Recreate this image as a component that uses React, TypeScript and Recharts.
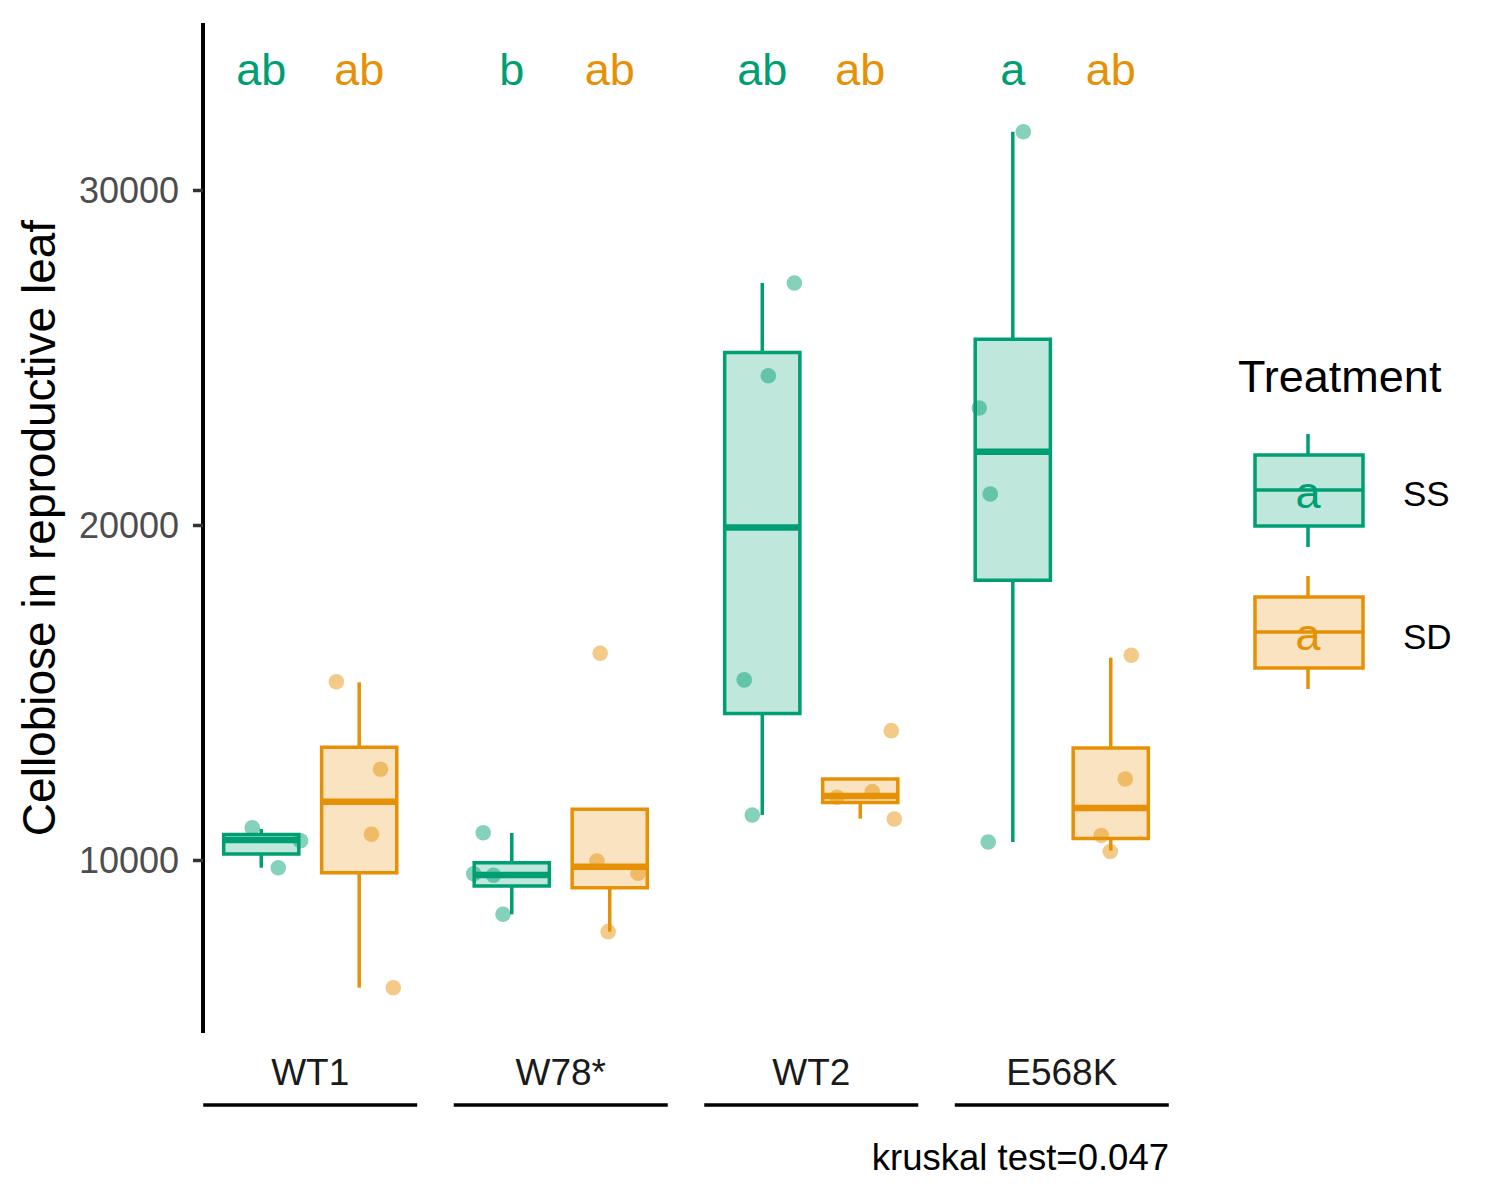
import React from "react"
import {
  ComposedChart,
  XAxis,
  YAxis,
  Scatter,
  ReferenceArea,
  ReferenceLine,
  Legend,
} from "recharts"

const groups = ["WT1", "W78*", "WT2", "E568K"]
const treatments = ["SS", "SD"]
const yTicks = [10000, 20000, 30000]

// boxplot summaries, one value per group
const ssWhiskerLow = [9785, 8394, 11358, 10552]
const ssQ1 = [10194, 9239, 14385, 18367]
const ssMedian = [10612, 9567, 19940, 22203]
const ssQ3 = [10776, 9934, 25164, 25558]
const ssWhiskerHigh = [10940, 10821, 27238, 31752]

const sdWhiskerLow = [6203, 7875, 11248, 10293]
const sdQ1 = [9636, 9188, 11731, 10654]
const sdMedian = [11755, 9815, 11925, 11567]
const sdQ3 = [13379, 11528, 12433, 13358]
const sdWhiskerHigh = [15319, 11528, 12433, 16054]

// raw observations and their horizontal jitter (in group units)
const ssPoints = [
  [10979, 9785, 10591],
  [10830, 9606, 9558, 8394],
  [27238, 24468, 15391, 11358],
  [31752, 23507, 20940, 10552],
]
const ssJitter = [
  [-0.036, 0.068, 0.157],
  [-0.114, -0.152, -0.073, -0.035],
  [0.128, 0.024, -0.072, -0.04],
  [0.042, -0.134, -0.09, -0.098],
]
const sdPoints = [
  [15337, 12722, 10782, 6203],
  [16185, 9985, 9618, 7875],
  [13875, 11887, 12054, 11239],
  [16125, 12433, 10743, 10266],
]
const sdJitter = [
  [-0.091, 0.085, 0.049, 0.136],
  [-0.038, -0.051, 0.113, -0.006],
  [0.124, -0.093, 0.048, 0.136],
  [0.082, 0.058, -0.038, -0.002],
]

const ssLetters = ["ab", "b", "ab", "a"]
const sdLetters = ["ab", "ab", "ab", "ab"]
const letterY = 33150

const GREEN = "#009E73"
const ORANGE = "#E69105"
const GREEN_FILL = "#BFE7DC"
const ORANGE_FILL = "#F9E3C0"
const FONT = "'Liberation Sans', Arial, sans-serif"

const dodge = 0.1955
const halfBox = 0.15

const series = [
  {
    name: treatments[0],
    offset: -dodge,
    color: GREEN,
    fill: GREEN_FILL,
    lo: ssWhiskerLow,
    q1: ssQ1,
    med: ssMedian,
    q3: ssQ3,
    hi: ssWhiskerHigh,
    points: ssPoints,
    jitter: ssJitter,
    letters: ssLetters,
  },
  {
    name: treatments[1],
    offset: dodge,
    color: ORANGE,
    fill: ORANGE_FILL,
    lo: sdWhiskerLow,
    q1: sdQ1,
    med: sdMedian,
    q3: sdQ3,
    hi: sdWhiskerHigh,
    points: sdPoints,
    jitter: sdJitter,
    letters: sdLetters,
  },
]

function GroupTick(props: any) {
  const { x, y, payload } = props
  return (
    <g>
      <text x={x} y={y + 52} textAnchor="middle" fontSize={37} fill="#1A1A1A" fontFamily={FONT}>
        {groups[payload.value - 1]}
      </text>
      <line x1={x - 107} x2={x + 107} y1={y + 72} y2={y + 72} stroke="#000" strokeWidth={3.5} />
    </g>
  )
}

function LegendKey({ top, color, fill }: { top: number; color: string; fill: string }) {
  return (
    <g>
      <line x1={88} x2={88} y1={top - 21} y2={top + 92} stroke={color} strokeWidth={3.5} />
      <rect x={35} y={top} width={108} height={71} fill={fill} stroke={color} strokeWidth={3.5} />
      <line x1={35} x2={143} y1={top + 35} y2={top + 35} stroke={color} strokeWidth={3.5} />
      <text x={88} y={top + 53} textAnchor="middle" fontSize={45} fill={color} fontFamily={FONT}>
        a
      </text>
    </g>
  )
}

function TreatmentLegend() {
  return (
    <svg width={260} height={370}>
      <text x={18} y={52} fontSize={45} fill="#000" fontFamily={FONT}>
        Treatment
      </text>
      <LegendKey top={115} color={GREEN} fill={GREEN_FILL} />
      <text x={183} y={166} fontSize={35} fill="#000" fontFamily={FONT}>
        {treatments[0]}
      </text>
      <LegendKey top={257} color={ORANGE} fill={ORANGE_FILL} />
      <text x={183} y={309} fontSize={35} fill="#000" fontFamily={FONT}>
        {treatments[1]}
      </text>
    </svg>
  )
}

export default function App() {
  return (
    <div style={{ position: "absolute", left: 0, top: 0, fontFamily: FONT }}>
      <ComposedChart width={1500} height={1200} margin={{ top: 23, right: 331, bottom: 27, left: 0 }}>
        <XAxis
          type="number"
          dataKey="x"
          domain={[0.572, 4.428]}
          allowDataOverflow
          ticks={[1, 2, 3, 4]}
          axisLine={false}
          tickLine={false}
          tickSize={0}
          tickMargin={0}
          height={140}
          tick={<GroupTick />}
          label={{
            content: (p: any) => (
              <text
                x={p.viewBox.x + p.viewBox.width}
                y={1170}
                textAnchor="end"
                fontSize={36.5}
                fill="#000"
                fontFamily={FONT}
              >
                kruskal test=0.047
              </text>
            ),
          }}
        />
        <YAxis
          type="number"
          dataKey="y"
          domain={[4850, 35000]}
          allowDataOverflow
          ticks={yTicks}
          width={203}
          axisLine={{ stroke: "#000", strokeWidth: 4 }}
          tickLine={{ stroke: "#333333", strokeWidth: 3.5 }}
          tickSize={10}
          tickMargin={14}
          tick={{ fill: "#4D4D4D", fontSize: 36, fontFamily: FONT }}
          label={{
            content: () => (
              <text
                x={55}
                y={528}
                transform="rotate(-90 55 528)"
                textAnchor="middle"
                fontSize={46}
                fill="#000"
                fontFamily={FONT}
              >
                Cellobiose in reproductive leaf
              </text>
            ),
          }}
        />

        {series.map((s) =>
          groups.map((g, i) => {
            const cx = i + 1 + s.offset
            return (
              <React.Fragment key={s.name + g}>
                <ReferenceLine
                  segment={[
                    { x: cx, y: s.q3[i] },
                    { x: cx, y: s.hi[i] },
                  ]}
                  stroke={s.color}
                  strokeWidth={3.5}
                />
                <ReferenceLine
                  segment={[
                    { x: cx, y: s.lo[i] },
                    { x: cx, y: s.q1[i] },
                  ]}
                  stroke={s.color}
                  strokeWidth={3.5}
                />
                <ReferenceArea
                  x1={cx - halfBox}
                  x2={cx + halfBox}
                  y1={s.q1[i]}
                  y2={s.q3[i]}
                  fill={s.fill}
                  fillOpacity={1}
                  stroke={s.color}
                  strokeWidth={3.5}
                />
                <ReferenceLine
                  segment={[
                    { x: cx - halfBox, y: s.med[i] },
                    { x: cx + halfBox, y: s.med[i] },
                  ]}
                  stroke={s.color}
                  strokeWidth={6.5}
                />
              </React.Fragment>
            )
          })
        )}

        {series.map((s) => (
          <Scatter
            key={"pts" + s.name}
            name={s.name}
            isAnimationActive={false}
            data={s.points.flatMap((vals, i) =>
              vals.map((v, j) => ({ x: i + 1 + s.offset + s.jitter[i][j], y: v }))
            )}
            shape={(p: any) => <circle cx={p.cx} cy={p.cy} r={7.8} fill={s.color} fillOpacity={0.48} />}
            legendType="none"
          />
        ))}

        {series.map((s) => (
          <Scatter
            key={"lbl" + s.name}
            isAnimationActive={false}
            data={groups.map((g, i) => ({ x: i + 1 + s.offset, y: letterY, label: s.letters[i] }))}
            shape={(p: any) => (
              <text x={p.cx} y={p.cy} textAnchor="middle" fontSize={45} fill={s.color} fontFamily={FONT}>
                {p.payload.label}
              </text>
            )}
            legendType="none"
          />
        ))}

        <Legend
          layout="horizontal"
          align="center"
          verticalAlign="middle"
          content={() => <TreatmentLegend />}
          wrapperStyle={{ left: 1220, top: 340, width: 260, height: 370 }}
        />
      </ComposedChart>
    </div>
  )
}
